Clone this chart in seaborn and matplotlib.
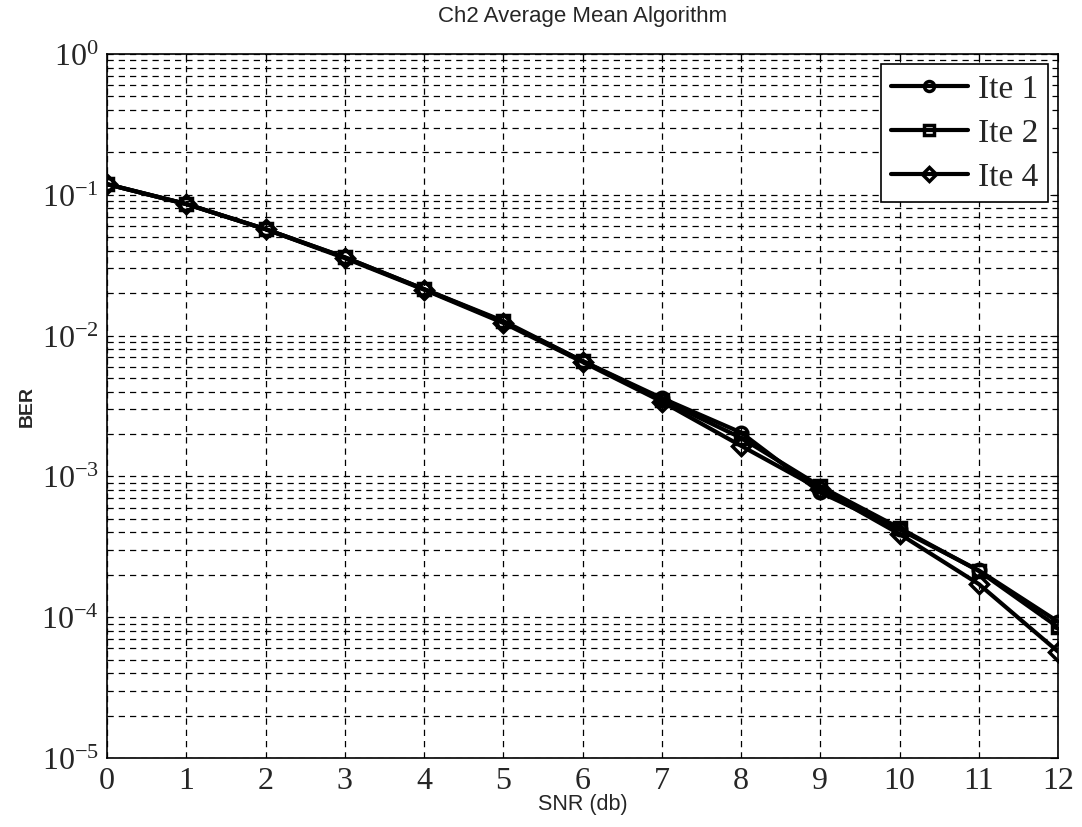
import numpy as np
import pandas as pd
import seaborn as sns
import matplotlib.pyplot as plt
from matplotlib.ticker import LogLocator, NullFormatter

# valori
snr = [0, 1, 2, 3, 4, 5, 6, 7, 8, 9, 10, 11, 12]
ber_ite1 = [0.119, 0.086, 0.057, 0.036, 0.0214, 0.0125, 0.0066, 0.0036, 0.00205, 0.00077, 0.00042, 0.000215, 0.000093]
ber_ite2 = [0.119, 0.086, 0.057, 0.036, 0.0214, 0.0127, 0.0066, 0.0035, 0.00188, 0.00085, 0.00043, 0.000213, 0.000085]
ber_ite4 = [0.119, 0.086, 0.057, 0.0355, 0.0212, 0.0123, 0.0065, 0.0034, 0.00165, 0.00081, 0.00039, 0.000172, 0.000057]
labels = ["Ite 1", "Ite 2", "Ite 4"]

df = pd.DataFrame({
    "SNR": snr * 3,
    "BER": ber_ite1 + ber_ite2 + ber_ite4,
    "serie": [labels[0]] * len(snr) + [labels[1]] * len(snr) + [labels[2]] * len(snr),
})

sns.set_style("white")
plt.rcParams["mathtext.fontset"] = "custom"
plt.rcParams["mathtext.rm"] = "Liberation Serif"
plt.rcParams["mathtext.it"] = "Liberation Serif"
plt.rcParams["axes.unicode_minus"] = False

fig = plt.figure(figsize=(10.82, 8.28), dpi=100)
ax = fig.add_axes([107 / 1082, 1 - 759 / 828, (1058 - 107) / 1082, (759 - 55) / 828])

sns.lineplot(data=df, x="SNR", y="BER", hue="serie", style="serie",
             markers=["o", "s", "D"], dashes=False, palette=["black"] * 3,
             linewidth=3, markersize=9, markerfacecolor="none",
             markeredgecolor="black", markeredgewidth=2.5, ax=ax)

ax.set_yscale("log")
ax.set_ylim(1e-5, 1)
ax.set_xlim(0, 12)
ax.set_xticks(snr)
ax.yaxis.set_major_locator(LogLocator(base=10, numticks=10))
ax.yaxis.set_minor_locator(LogLocator(base=10, subs=np.arange(2, 10), numticks=100))
ax.yaxis.set_minor_formatter(NullFormatter())

ax.grid(True, which="both", color="black", linestyle=(0, (5, 4)), linewidth=0.9)
ax.tick_params(which="both", direction="in", top=True, right=True, color="black")
ax.tick_params(which="major", length=6, labelsize=23, pad=6)
ax.tick_params(which="minor", length=3)
for lab in ax.get_xticklabels() + ax.get_yticklabels():
    lab.set_fontfamily("Liberation Serif")
for s in ax.spines.values():
    s.set_color("black")
    s.set_linewidth(1.2)

ax.set_title("Ch2 Average Mean Algorithm", fontsize=16, family="Liberation Sans", pad=24)
ax.set_xlabel("SNR (db)", fontsize=15.5, family="Liberation Sans", labelpad=-2)
ax.set_ylabel("BER", fontsize=14, family="Liberation Sans", fontweight="bold", labelpad=4)

leg = ax.legend(loc="upper right", prop={"family": "Liberation Serif", "size": 24},
                frameon=True, fancybox=False, edgecolor="black", framealpha=1,
                handlelength=2.3, borderaxespad=0.3, labelspacing=0.4, handletextpad=0.3,
                borderpad=0.3, markerscale=0.8)
leg.get_frame().set_linewidth(1.2)

fig.savefig("out.png", dpi=100, facecolor="white")
